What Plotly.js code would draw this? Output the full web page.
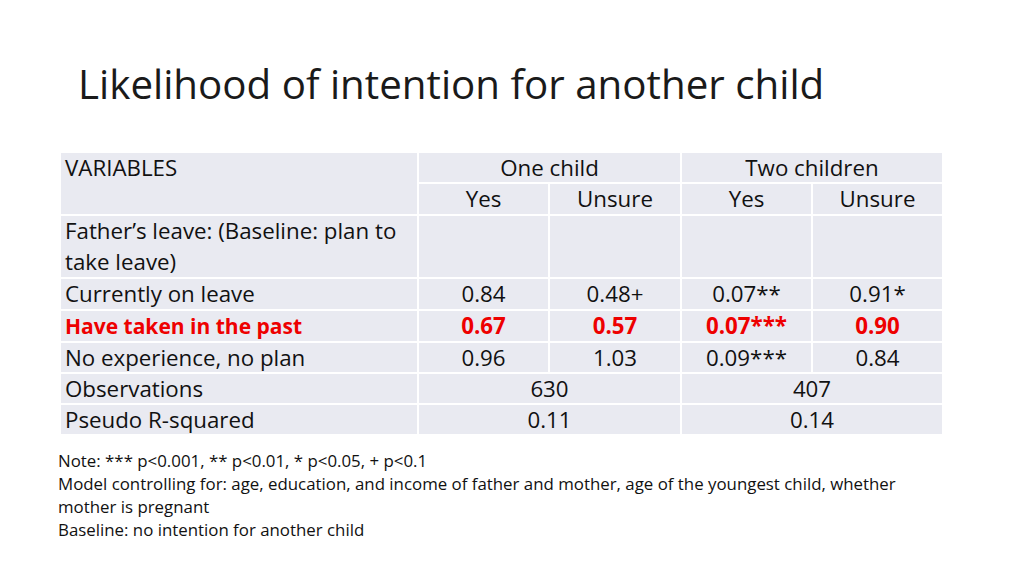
<!DOCTYPE html>
<html>
<head>
<meta charset="utf-8">
<script src="https://cdn.plot.ly/plotly-3.0.1.min.js"></script>
<style>html,body{margin:0;padding:0;background:#fff;}#chart{width:1024px;height:576px;}</style>
</head>
<body>
<div id="chart"></div>
<script>
// ---- data ----
const groups = ["One child", "Two children"];
const subHeaders = ["Yes", "Unsure", "Yes", "Unsure"];
const rowLabels = ["Currently on leave", "Have taken in the past", "No experience, no plan"];
const sectionLabel = "Father’s leave: (Baseline: plan to<br>take leave)";
const oneChildYes = ["0.84", "0.67", "0.96"];
const oneChildUnsure = ["0.48+", "0.57", "1.03"];
const twoChildYes = ["0.07**", "0.07***", "0.09***"];
const twoChildUnsure = ["0.91*", "0.90", "0.84"];
const highlightRow = "Have taken in the past";
const statLabels = ["Observations", "Pseudo R-squared"];
const observations = ["630", "407"];
const pseudoR2 = ["0.11", "0.14"];
const notes = [
  "Note: *** p<0.001, ** p<0.01, * p<0.05, + p<0.1",
  "Model controlling for: age, education, and income of father and mother, age of the youngest child, whether",
  "mother is pregnant",
  "Baseline: no intention for another child"
];
const titleText = "Likelihood of intention for another child";

// ---- layout geometry ----
const colEdges = [60, 418, 549, 681, 812, 943];
const rowEdges = [152, 183, 215, 278, 310, 342, 373, 404, 435];
const FILL = "#e9eaf1", LINE = "#ffffff", RED = "#ee0000", INK = "#111111";
const FONT = "Open Sans, Noto Sans, sans-serif";
const FS = 22.3, FSB = 21;
const PADX = 5, DY = 2.5;

const shapes = [];
function cell(c0, c1, r0, r1) {
  shapes.push({type: "rect", xref: "x", yref: "y",
    x0: colEdges[c0], x1: colEdges[c1], y0: rowEdges[r0], y1: rowEdges[r1],
    fillcolor: FILL, line: {color: LINE, width: 2}, layer: "below"});
}
// header
cell(0, 1, 0, 2);
cell(1, 3, 0, 1); cell(3, 5, 0, 1);
for (let c = 1; c <= 4; c++) cell(c, c + 1, 1, 2);
// section + value rows
for (let r = 2; r <= 5; r++) { cell(0, 1, r, r + 1); for (let c = 1; c <= 4; c++) cell(c, c + 1, r, r + 1); }
// stats rows
for (let r = 6; r <= 7; r++) { cell(0, 1, r, r + 1); cell(1, 3, r, r + 1); cell(3, 5, r, r + 1); }

const cy = (a, b) => (a + b) / 2 + DY;
const cx = (a, b) => (a + b) / 2;
const LX = colEdges[0] + PADX;
const labX = [], labY = [], labT = [], labC = [], labS = [];
const valX = [], valY = [], valT = [], valC = [];

// header labels
labX.push(LX); labY.push(cy(rowEdges[0], rowEdges[1])); labT.push("VARIABLES"); labC.push(INK); labS.push(FS);
groups.forEach((g, i) => { valX.push(cx(colEdges[1 + 2 * i], colEdges[3 + 2 * i])); valY.push(cy(rowEdges[0], rowEdges[1])); valT.push(g); valC.push(INK); });
subHeaders.forEach((s, i) => { valX.push(cx(colEdges[1 + i], colEdges[2 + i])); valY.push(cy(rowEdges[1], rowEdges[2])); valT.push(s); valC.push(INK); });
// section label (two lines)
const secLines = sectionLabel.split("<br>");
secLines.forEach((ln, i) => {
  const h = (rowEdges[3] - rowEdges[2]) / secLines.length;
  labX.push(LX); labY.push(rowEdges[2] + h * (i + 0.5) + DY); labT.push(ln); labC.push(INK); labS.push(FS);
});
// value rows
const valueCols = [oneChildYes, oneChildUnsure, twoChildYes, twoChildUnsure];
rowLabels.forEach((lab, r) => {
  const hl = lab === highlightRow;
  const y = cy(rowEdges[3 + r], rowEdges[4 + r]);
  labX.push(LX); labY.push(y); labT.push(hl ? "<b>" + lab + "</b>" : lab); labC.push(hl ? RED : INK); labS.push(hl ? FSB : FS);
  valueCols.forEach((col, c) => {
    valX.push(cx(colEdges[1 + c], colEdges[2 + c])); valY.push(y);
    valT.push(hl ? "<b>" + col[r] + "</b>" : col[r]); valC.push(hl ? RED : INK);
  });
});
// stats rows
[observations, pseudoR2].forEach((arr, r) => {
  const y = cy(rowEdges[6 + r], rowEdges[7 + r]);
  labX.push(LX); labY.push(y); labT.push(statLabels[r]); labC.push(INK); labS.push(FS);
  arr.forEach((v, i) => { valX.push(cx(colEdges[1 + 2 * i], colEdges[3 + 2 * i])); valY.push(y); valT.push(v); valC.push(INK); });
});

const traces = [
  {type: "scatter", mode: "text", x: labX, y: labY, text: labT, textposition: "middle right",
   textfont: {family: FONT, size: labS, color: labC}, hoverinfo: "skip", showlegend: false, cliponaxis: false},
  {type: "scatter", mode: "text", x: valX, y: valY, text: valT, textposition: "middle center",
   textfont: {family: FONT, size: FS, color: valC}, hoverinfo: "skip", showlegend: false, cliponaxis: false}
];

const annotations = notes.map((n, i) => ({
  xref: "x", yref: "y", x: 56, y: 460 + i * 23, text: n, showarrow: false,
  xanchor: "left", yanchor: "middle", font: {family: FONT, size: 16.85, color: INK}
}));

const layout = {
  width: 1024, height: 576,
  margin: {l: 0, r: 0, t: 0, b: 0},
  paper_bgcolor: "#ffffff", plot_bgcolor: "#ffffff",
  title: {text: titleText, x: 78 / 1024, xanchor: "left", y: 1 - 85 / 576, yanchor: "middle",
          font: {family: FONT, size: 40.3, color: "#1a1a1a"}},
  xaxis: {range: [0, 1024], visible: false, fixedrange: true},
  yaxis: {range: [576, 0], visible: false, fixedrange: true},
  shapes: shapes,
  annotations: annotations
};

Plotly.newPlot("chart", traces, layout, {staticPlot: true, displayModeBar: false});
</script>
</body>
</html>
